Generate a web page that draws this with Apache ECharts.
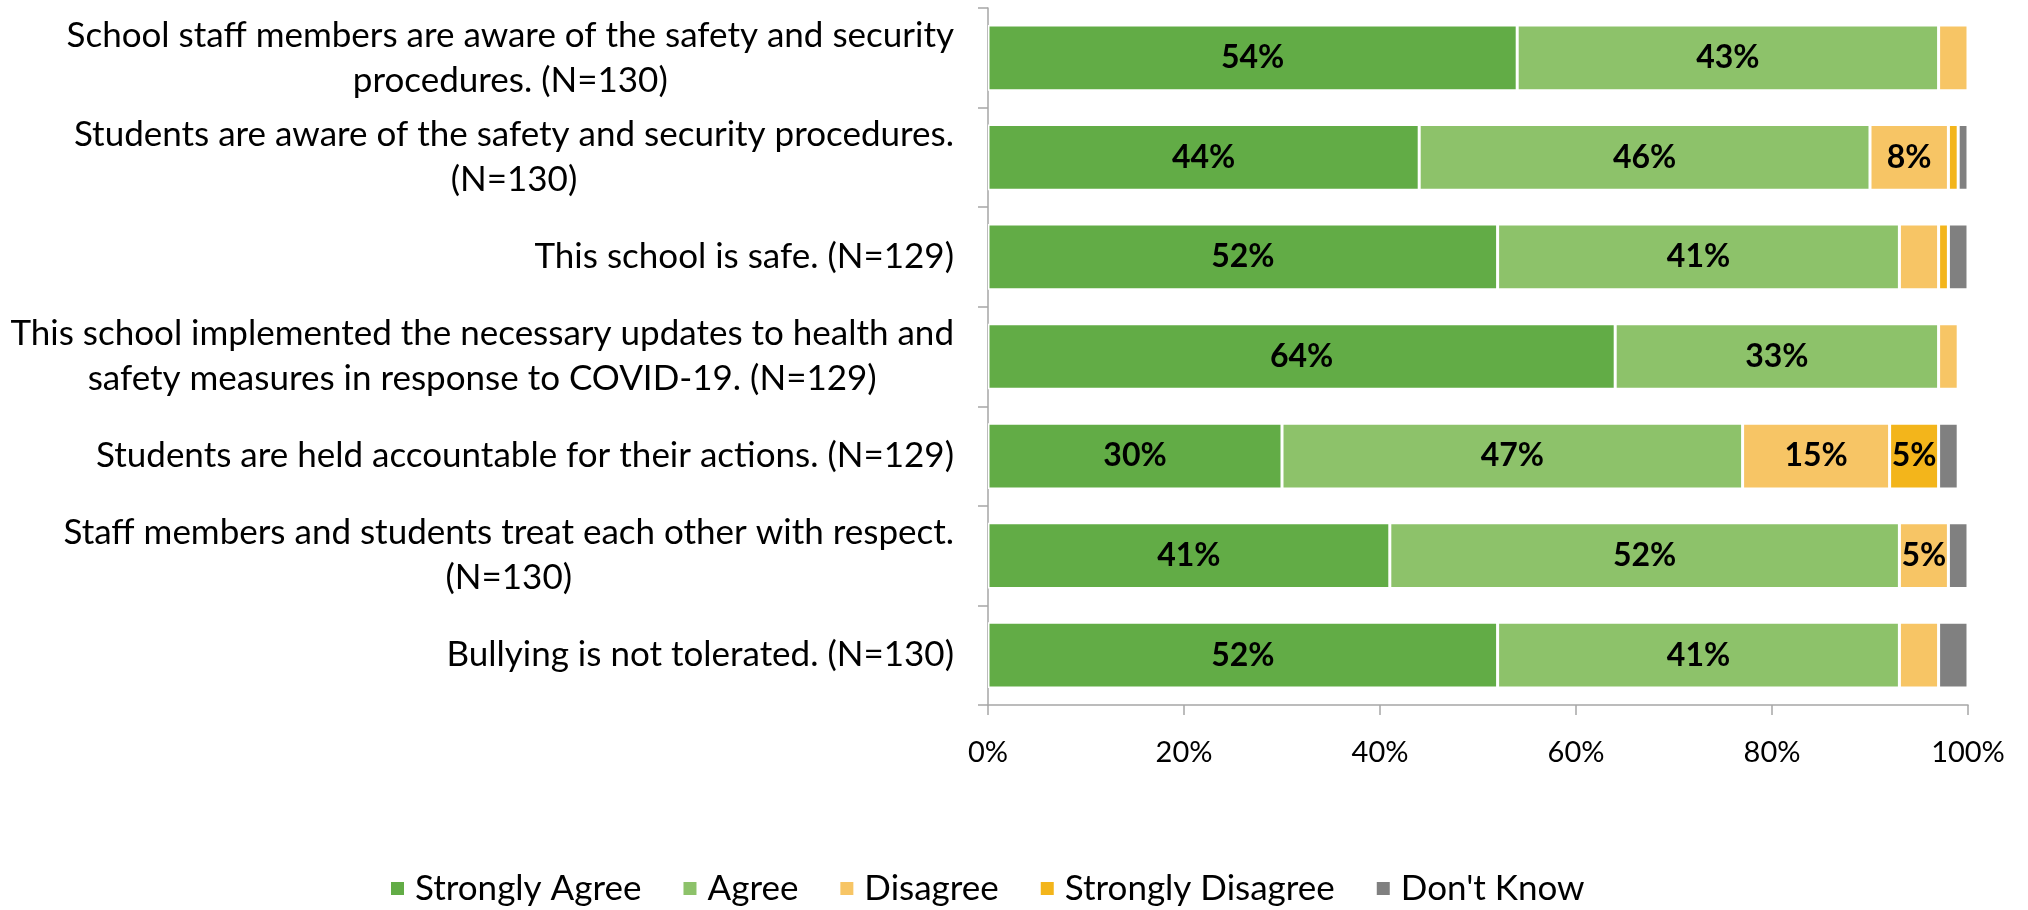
<!DOCTYPE html>
<html>
<head>
<meta charset="utf-8">
<script src="https://cdn.jsdelivr.net/npm/echarts@6/dist/echarts.min.js"></script>
<style>
html,body{margin:0;padding:0;background:#fff;}
#chart{width:2028px;height:910px;}
</style>
</head>
<body>
<div id="chart"></div>
<script>
const categories = [
  "School staff members are aware of the safety and security\nprocedures. (N=130)",
  "Students are aware of the safety and security procedures.\n(N=130)",
  "This school is safe. (N=129)",
  "This school implemented the necessary updates to health and\nsafety measures in response to COVID-19. (N=129)",
  "Students are held accountable for their actions. (N=129)",
  "Staff members and students treat each other with respect.\n(N=130)",
  "Bullying is not tolerated. (N=130)"
];
const seriesNames = ["Strongly Agree", "Agree", "Disagree", "Strongly Disagree", "Don't Know"];
const stronglyAgree    = [54, 44, 52, 64, 30, 41, 52];
const agree            = [43, 46, 41, 33, 47, 52, 41];
const disagree         = [3, 8, 4, 2, 15, 5, 4];
const stronglyDisagree = [0, 1, 1, 0, 5, 0, 0];
const dontKnow         = [0, 1, 2, 0, 2, 2, 3];
const xTicks = [0, 20, 40, 60, 80, 100];

const colors = ["#62AC46", "#8DC26A", "#F7C565", "#F3B51B", "#808080"];
const values = [stronglyAgree, agree, disagree, stronglyDisagree, dontKnow];
const FONT = "Lato, 'Liberation Sans', sans-serif";
const CAT_FS = 35;
const TICK_FS = 29;
const DATA_FS = 32;
const LEG_FS = 35;

const chart = echarts.init(document.getElementById('chart'), null, {renderer: 'canvas'});
const series = seriesNames.map((name, i) => ({
  name: name,
  type: 'bar',
  stack: 'total',
  barCategoryGap: '34%',
  data: values[i],
  itemStyle: {color: colors[i], borderColor: '#ffffff', borderWidth: 1.5},
  label: {
    show: true,
    position: 'inside',
    color: '#000',
    fontWeight: 'bold',
    fontFamily: FONT,
    fontSize: DATA_FS,
    formatter: p => (p.value >= 5 ? p.value + '%' : '')
  },
  emphasis: {disabled: true}
}));

chart.setOption({
  animation: false,
  backgroundColor: '#ffffff',
  color: colors,
  grid: {left: 988, right: 60, top: 8, bottom: 205, containLabel: false},
  legend: {
    top: 866,
    left: 384,
    itemWidth: 15,
    itemHeight: 15,
    itemGap: 40,
    icon: 'rect',
    textStyle: {fontFamily: FONT, fontSize: LEG_FS, color: '#000', padding: [0, 0, 0, 5]},
    data: seriesNames
  },
  xAxis: {
    type: 'value',
    min: xTicks[0],
    max: xTicks[xTicks.length - 1],
    interval: xTicks[1] - xTicks[0],
    axisLine: {show: true, lineStyle: {color: '#A6A6A6', width: 1.5}},
    axisTick: {show: true, length: 10, lineStyle: {color: '#A6A6A6', width: 1.5}},
    splitLine: {show: false},
    axisLabel: {
      formatter: '{value}%',
      fontFamily: FONT, fontSize: TICK_FS, color: '#000', margin: 33
    }
  },
  yAxis: {
    type: 'category',
    inverse: true,
    data: categories,
    axisLine: {show: true, lineStyle: {color: '#A6A6A6', width: 1.5}},
    axisTick: {show: true, length: 10, lineStyle: {color: '#A6A6A6', width: 1.5}},
    axisLabel: {
      margin: 34,
      align: 'right',
      fontFamily: FONT, fontSize: CAT_FS, color: '#000',
      lineHeight: 45,
      formatter: v => v.split('\n').map(l => '{c|' + l + '}').join('\n'),
      rich: {c: {align: 'center', fontFamily: FONT, fontSize: CAT_FS, color: '#000', lineHeight: 45}}
    }
  },
  series: series
});
</script>
</body>
</html>
